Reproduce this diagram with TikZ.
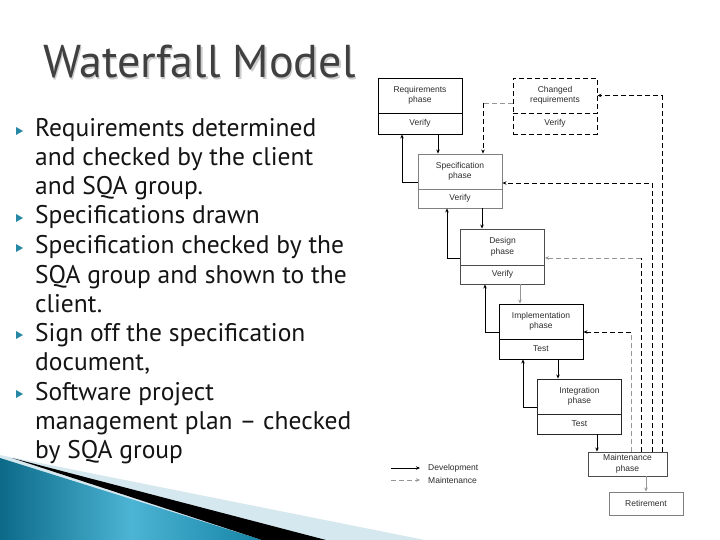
\documentclass[tikz,border=0pt]{standalone}
\usepackage{fontspec}
\setmainfont{PT Sans}
\newfontfamily\diagfont{Liberation Sans}
\usetikzlibrary{arrows.meta}
\definecolor{titlec}{RGB}{64,64,64}
\definecolor{shadowc}{RGB}{205,205,205}
\definecolor{bodyc}{RGB}{20,20,20}
\definecolor{bulletc}{RGB}{38,136,164}
\definecolor{labc}{RGB}{45,45,45}
\definecolor{lightstripe}{RGB}{214,232,239}
\definecolor{tealdark}{RGB}{12,106,136}
\definecolor{teallight}{RGB}{76,180,212}
\definecolor{tealmid}{RGB}{22,132,166}
\definecolor{mgray}{RGB}{150,150,150}
\tikzset{
  ph/.style={draw=#1, line width=0.9pt, minimum width=84pt, minimum height=35pt, inner sep=0pt,
    align=center, font=\diagfont\fontsize{8.5}{10.5}\selectfont, text=labc},
  ph/.default=black,
  dev/.style={draw=black, line width=0.9pt, -{Stealth[length=4pt,width=3.5pt]}},
  devg/.style={dev, draw=mgray},
  mtk/.style={draw=black, line width=0.9pt, dash pattern=on 5pt off 3pt},
  mtg/.style={draw=mgray, line width=0.9pt, dash pattern=on 5pt off 3pt},
  tip/.style={-{Stealth[length=4pt,width=3.5pt]}},
  bodyline/.style={anchor=base west, inner sep=0pt, text=bodyc, font=\fontsize{25.5}{29}\selectfont},
  titlefont/.style={anchor=base west, inner sep=0pt, font=\fontsize{46}{50}\selectfont},
  bul/.style={fill=bulletc, draw=none},
  legtext/.style={anchor=west, inner sep=0pt, font=\diagfont\fontsize{8.5}{10}\selectfont, text=labc}
}
\begin{document}
\begin{tikzpicture}[x=1pt,y=-1pt]
\useasboundingbox (0,0) rectangle (720,540);
\fill[white] (0,0) rectangle (720,540);

% bottom swoosh
\fill[lightstripe] (0,455) -- (425,540) -- (0,540) -- cycle;
\shade[left color=tealdark, right color=tealmid, middle color=teallight] (0,458) -- (262,540) -- (0,540) -- cycle;
\fill[black] (12,458) -- (326,540) -- (262,540) -- cycle;

% title
\node[titlefont, text=shadowc] (titlesh) at (44.5,79.5) {Waterfall Model};
\node[titlefont, text=titlec] (title) at (43,78) {Waterfall Model};

% bullets
\foreach \b/\y in {1/137,2/224,3/254,4/341,5/400}{
  \fill[bul] (16,\y-10) -- (23,\y-6) -- (16,\y-2) -- cycle;
}
% body text
\node[bodyline] (t1) at (35,137) {Requirements determined};
\node[bodyline] (t2) at (35,166) {and checked by the client};
\node[bodyline] (t3) at (35,195) {and SQA group.};
\node[bodyline] (t4) at (35,224) {Specifications drawn};
\node[bodyline] (t5) at (35,254) {Specification checked by the};
\node[bodyline] (t6) at (35,283) {SQA group and shown to the};
\node[bodyline] (t7) at (35,312) {client.};
\node[bodyline] (t8) at (35,341) {Sign off the specification};
\node[bodyline] (t9) at (35,370) {document,};
\node[bodyline] (t10) at (35,400) {Software project};
\node[bodyline] (t11) at (35,429) {management plan -- checked};
\node[bodyline] (t12) at (35,458) {by SQA group};

% diagram boxes
\node[ph] (req) at (420,95.5) {Requirements\\phase};
\node[ph, minimum height=21pt] (reqv) at (420,123.5) {Verify};
\node[ph, dashed, dash pattern=on 5pt off 3pt] (chg) at (555,95.5) {Changed\\requirements};
\node[ph, dashed, dash pattern=on 5pt off 3pt, minimum height=21pt] (chgv) at (555,123.5) {Verify};
\node[ph=gray] (spec) at (460,171.5) {Specification\\phase};
\node[ph=gray, minimum height=19pt] (specv) at (460,198.5) {Verify};
\node[ph=black!70, minimum height=36pt] (des) at (502.5,247) {Design\\phase};
\node[ph=black!70, minimum height=19pt] (desv) at (502.5,274.5) {Verify};
\node[ph] (impl) at (541,321.5) {Implementation\\phase};
\node[ph, minimum height=20pt] (implv) at (541,349) {Test};
\node[ph=black!85] (integ) at (579.5,396.5) {Integration\\phase};
\node[ph=black!85, minimum height=20pt] (integv) at (579.5,424) {Test};
\node[ph=black!70, minimum width=79pt, minimum height=24pt] (maint) at (627.5,464) {Maintenance\\phase};
\node[ph=gray, minimum width=74pt, minimum height=23pt] (ret) at (646,503.5) {Retirement};

% development connectors
\draw[dev] ([xshift=18pt]reqv.south) -- ([xshift=18pt]reqv.south |- spec.north);
\draw[dev] ([yshift=-10.5pt]spec.west) -| ([xshift=-18pt]reqv.south);
\draw[dev] ([xshift=22pt]specv.south) -- ([xshift=22pt]specv.south |- des.north);
\draw[dev] ([yshift=-11pt]des.west) -| ([xshift=-13pt]specv.south);
\draw[devg] ([xshift=17.5pt]desv.south) -- ([xshift=17.5pt]desv.south |- impl.north);
\draw[dev] ([yshift=-10.5pt]impl.west) -| ([xshift=-17.5pt]desv.south);
\draw[dev] ([xshift=17pt]implv.south) -- ([xshift=17pt]implv.south |- integ.north);
\draw[dev] ([yshift=-10.5pt]integ.west) -| ([xshift=-18pt]implv.south);
\draw[dev] ([xshift=17.5pt]integv.south) -- ([xshift=17.5pt]integv.south |- maint.north);
\draw[devg] ([xshift=18.5pt]maint.south) -- ([xshift=18.5pt]maint.south |- ret.north);

% maintenance connectors
\coordinate (k1) at (483,103);
\draw[mtg] ([yshift=-7.5pt]chg.west) -- (k1);
\draw[mtk, tip] (k1) -- (k1 |- spec.north);
\draw[mtk, tip] ([xshift=34.5pt]maint.north) |- (chg.east);
\draw[mtk, tip] ([xshift=24.5pt]maint.north) |- ([yshift=-11.5pt]spec.east);
\coordinate (k3) at (641,258);
\draw[mtk] ([xshift=13.5pt]maint.north) -- (k3);
\draw[mtg, tip] (k3) -- (k3 -| des.east);
\coordinate (k4) at (631,332);
\draw[mtg] ([xshift=3.5pt]maint.north) -- (k4);
\draw[mtk, tip] (k4) -- (k4 -| impl.east);

% legend
\coordinate (l1s) at (391,468);
\coordinate (l1e) at (420,468);
\coordinate (l2s) at (391,480);
\coordinate (l2e) at (420,480);
\draw[dev] (l1s) -- (l1e);
\draw[mtg, tip] (l2s) -- (l2e);
\node[legtext] (ldev) at (428,468) {Development};
\node[legtext] (lmnt) at (428,480) {Maintenance};
\end{tikzpicture}
\end{document}
